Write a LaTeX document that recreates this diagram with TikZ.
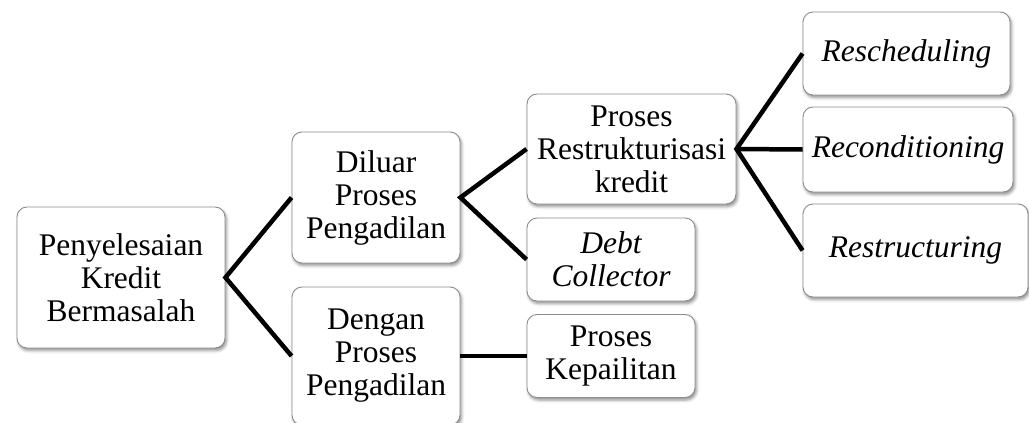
\documentclass[tikz,border=0pt]{standalone}
\usepackage{fontspec}
\setmainfont{Liberation Serif}
\usetikzlibrary{shadows.blur}
\tikzset{
  box/.style={draw=black!45, line width=0.9pt, rounded corners=10pt, fill=white,
    blur shadow={shadow xshift=1.5pt, shadow yshift=-2.5pt, shadow blur radius=3pt, shadow opacity=45},
    inner sep=0pt, align=center,
    font=\fontsize{31.5}{33}\selectfont},
  conn/.style={line width=4.5pt, black, line join=miter}
}
\begin{document}
\begin{tikzpicture}[x=1pt,y=-1pt]
\useasboundingbox (0,0) rectangle (1029,423);
\node[box, minimum width=208pt, minimum height=141pt] (A) at (121,277.5) {Penyelesaian\\Kredit\\Bermasalah};
\node[box, minimum width=168pt, minimum height=131pt] (B) at (376,197.5) {Diluar\\Proses\\Pengadilan};
\node[box, minimum width=168pt, minimum height=138pt] (C) at (376,356) {Dengan\\Proses\\Pengadilan};
\node[box, minimum width=209pt, minimum height=110pt] (D) at (631.5,149) {Proses\\Restrukturisasi\\kredit};
\node[box, minimum width=168pt, minimum height=83pt] (E) at (611,259.5) {\itshape Debt\\\itshape Collector};
\node[box, minimum width=168pt, minimum height=83pt] (F) at (611,356) {Proses\\Kepailitan};
\node[box, minimum width=207pt, minimum height=83pt] (G) at (906.5,53.5) {\itshape Rescheduling};
\node[box, minimum width=210pt, minimum height=85pt] (H) at (908,149.5) {\itshape Reconditioning};
\node[box, minimum width=225pt, minimum height=93pt] (I) at (915.5,250.5) {\itshape Restructuring};
\draw[conn] (B.west) -- (A.east) -- (C.west);
\draw[conn] (D.west) -- (B.east) -- (E.west);
\draw[conn] (C.east) -- (F.west);
\draw[conn] (G.west) -- (D.east) -- (I.west);
\draw[conn] (D.east) -- (H.west);
\end{tikzpicture}
\end{document}
